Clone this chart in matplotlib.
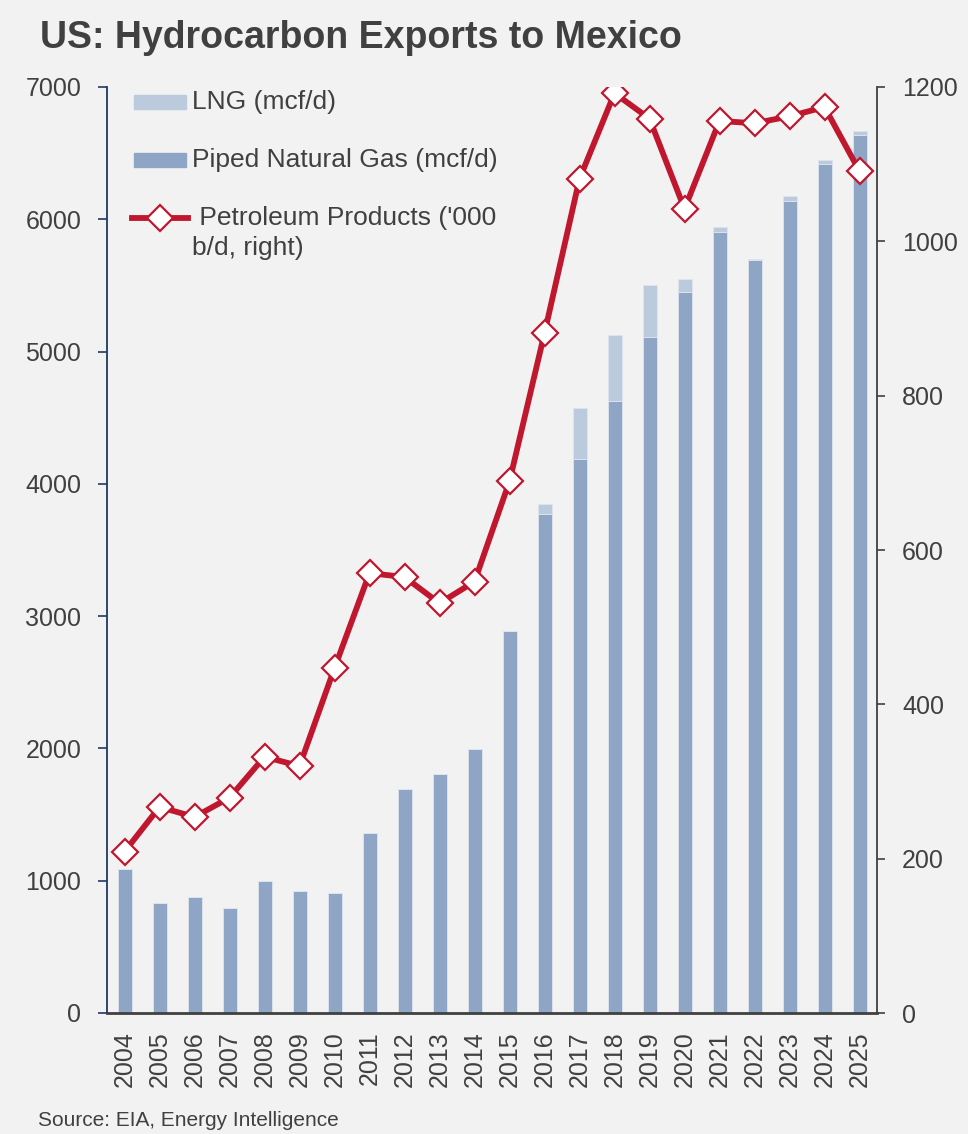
import numpy as np
import matplotlib.pyplot as plt
from matplotlib.patches import Rectangle
from matplotlib.lines import Line2D

plt.rcParams['font.family'] = ['Liberation Sans', 'DejaVu Sans']

# data
years = [str(y) for y in range(2004, 2026)]
piped_gas = [1085, 831, 877, 797, 998, 924, 909, 1363, 1697, 1803, 1996, 2888,
             3772, 4190, 4626, 5110, 5452, 5904, 5692, 6138, 6418, 6637]
total_gas = [1085, 831, 877, 797, 998, 924, 909, 1363, 1697, 1803, 1996, 2888,
             3848, 4573, 5125, 5503, 5549, 5942, 5702, 6176, 6448, 6667]
lng = [t - p for t, p in zip(total_gas, piped_gas)]
petroleum = [209, 267, 254, 279, 332, 320, 447, 570, 565, 531, 559, 689,
             881, 1081, 1192, 1159, 1042, 1156, 1153, 1162, 1174, 1091]

bg = '#f2f2f2'
c_piped = '#8fa5c5'
c_lng = '#bccadd'
c_red = '#c0172f'
c_text = '#404040'
c_navy = '#1f3864'

fig = plt.figure(figsize=(9.68, 11.34), dpi=100, facecolor=bg)
ax = fig.add_axes([107 / 968, 1 - 1013 / 1134, 770 / 968, 926 / 1134])
ax.set_facecolor(bg)

x = np.arange(len(years))
ax.bar(x, piped_gas, width=0.4, color=c_piped, edgecolor='#dfe5ee', linewidth=0.6)
ax.bar(x, lng, width=0.4, bottom=piped_gas, color=c_lng, edgecolor='#dfe5ee', linewidth=0.6)

ax.set_xlim(-0.5, len(years) - 0.5)
ax.set_ylim(0, 7000)
ax.set_yticks(range(0, 7001, 1000))
ax.set_xticks(x)
ax.set_xticklabels(years, rotation=90, fontsize=18, color=c_text)
ax.tick_params(axis='x', length=0, pad=13)
ax.tick_params(axis='y', direction='out', length=6.5, width=1.2, color=c_navy,
               labelsize=18, labelcolor=c_text, pad=12)

for s in ['top', 'right']:
    ax.spines[s].set_visible(False)
ax.spines['left'].set_color(c_navy)
ax.spines['left'].set_linewidth(1.3)
ax.spines['bottom'].set_color(c_text)
ax.spines['bottom'].set_linewidth(2)

ax2 = ax.twinx()
ax2.plot(x, petroleum, color=c_red, lw=4.2, marker='D', markersize=13,
         markerfacecolor='white', markeredgecolor=c_red, markeredgewidth=1.6)
ax2.set_ylim(0, 1200)
ax2.set_yticks(range(0, 1201, 200))
ax2.tick_params(axis='y', direction='out', length=6, width=1.2, color=c_text,
                labelsize=18, labelcolor=c_text, pad=12)
for s in ['top', 'left', 'bottom']:
    ax2.spines[s].set_visible(False)
ax2.spines['right'].set_color(c_text)
ax2.spines['right'].set_linewidth(1.3)

# legend, laid out by hand
t = ax2.transAxes
ax2.add_patch(Rectangle((0.035, 0.9838 - 0.0076), 0.0675, 0.0151, transform=t,
                        color=c_lng, clip_on=False))
ax2.add_patch(Rectangle((0.035, 0.9212 - 0.0076), 0.0675, 0.0151, transform=t,
                        color=c_piped, clip_on=False))
ax2.add_line(Line2D([0.0325, 0.1052], [0.8585, 0.8585], transform=t, color=c_red,
                    lw=4.2, clip_on=False))
ax2.add_line(Line2D([0.0688], [0.8585], transform=t, marker='D', markersize=13,
                    markerfacecolor='white', markeredgecolor=c_red,
                    markeredgewidth=1.6, clip_on=False))
ax2.text(0.1104, 0.9838, 'LNG (mcf/d)', transform=t, fontsize=19, color=c_text, va='center')
ax2.text(0.1104, 0.9212, 'Piped Natural Gas (mcf/d)', transform=t, fontsize=19,
         color=c_text, va='center')
ax2.text(0.1104, 0.8585, " Petroleum Products ('000", transform=t, fontsize=19,
         color=c_text, va='center')
ax2.text(0.1104, 0.8261, 'b/d, right)', transform=t, fontsize=19, color=c_text, va='center')

fig.text(40 / 968, 1 - 38 / 1134, 'US: Hydrocarbon Exports to Mexico', fontsize=27,
         fontweight='bold', color=c_text, va='center', ha='left')
fig.text(38 / 968, 1 - 1120 / 1134, 'Source: EIA, Energy Intelligence', fontsize=15,
         color=c_text, va='center', ha='left')

fig.savefig('out.png', dpi=100, facecolor=bg)
